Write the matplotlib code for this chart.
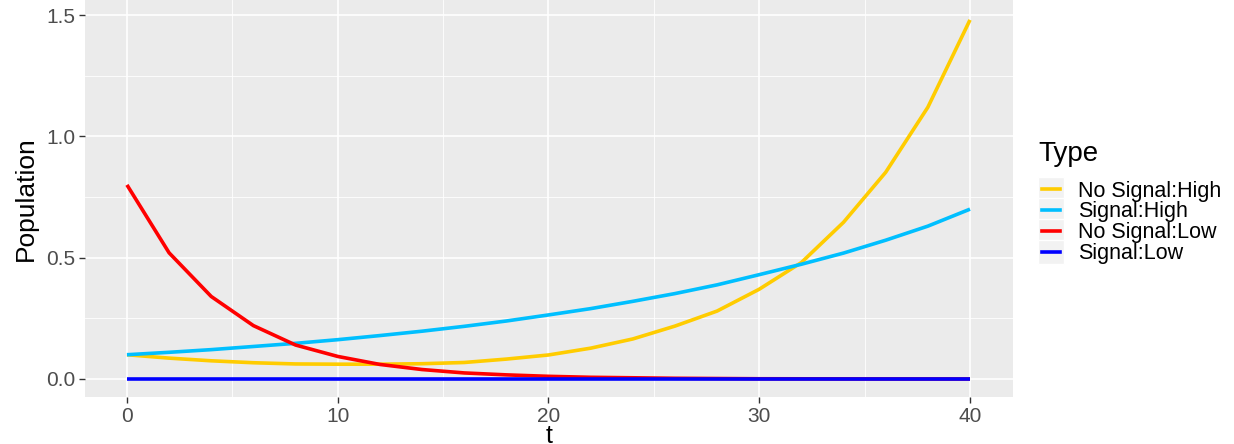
import matplotlib
matplotlib.use("Agg")
import matplotlib.pyplot as plt
from matplotlib.legend_handler import HandlerLine2D
from matplotlib.patches import Rectangle
from matplotlib.lines import Line2D

plt.rcParams['font.family'] = ['Liberation Sans', 'DejaVu Sans']

# data (t every 2 units)
t = [0, 2, 4, 6, 8, 10, 12, 14, 16, 18, 20, 22, 24, 26, 28, 30, 32, 34, 36, 38, 40]
no_signal_high = [0.100, 0.086, 0.075, 0.067, 0.062, 0.061, 0.061, 0.063, 0.068, 0.082, 0.099,
                  0.127, 0.165, 0.218, 0.280, 0.370, 0.480, 0.646, 0.852, 1.120, 1.480]
signal_high = [0.100, 0.110, 0.121, 0.134, 0.147, 0.162, 0.179, 0.197, 0.217, 0.239, 0.264,
               0.290, 0.320, 0.352, 0.388, 0.430, 0.473, 0.519, 0.572, 0.630, 0.700]
no_signal_low = [0.800, 0.520, 0.340, 0.220, 0.140, 0.093, 0.060, 0.039, 0.025, 0.017, 0.011,
                 0.007, 0.005, 0.003, 0.002, 0.001, 0.0008, 0.0005, 0.0003, 0.0002, 0.0001]
signal_low = [0.0] * len(t)

series = [
    ("No Signal:High", no_signal_high, "#FFCC00"),
    ("Signal:High", signal_high, "#00BFFF"),
    ("No Signal:Low", no_signal_low, "#FF0000"),
    ("Signal:Low", signal_low, "#0000FF"),
]


class KeyHandler(HandlerLine2D):
    """legend key with the grey ggplot box behind the line"""
    def create_artists(self, legend, orig_handle, xdescent, ydescent, width, height, fontsize, trans):
        bg = Rectangle((-xdescent, -ydescent - 2), width, height + 4,
                       facecolor="#F2F2F2", edgecolor="white", lw=1.0, transform=trans)
        y = height / 2 - ydescent
        ln = Line2D([-xdescent + 3, -xdescent + width - 3], [y, y],
                    color=orig_handle.get_color(), lw=orig_handle.get_linewidth(),
                    transform=trans)
        return [bg, ln]


fig = plt.figure(figsize=(12.34, 4.44), dpi=100)
ax = fig.add_axes([85 / 1234, 47 / 444, 928 / 1234, 397 / 444])
ax.set_facecolor("#EBEBEB")

lines = []
for name, vals, col in series:
    ln, = ax.plot(t, vals, color=col, lw=2.6, label=name, solid_capstyle="butt")
    lines.append(ln)

ax.set_xlim(-1.99, 42.04)
ax.set_ylim(-0.0742, 1.562)
ax.set_xticks([0, 10, 20, 30, 40])
ax.set_yticks([0.0, 0.5, 1.0, 1.5])
ax.set_yticklabels(["0.0", "0.5", "1.0", "1.5"])
ax.set_xticks([5, 15, 25, 35], minor=True)
ax.set_yticks([0.25, 0.75, 1.25], minor=True)
ax.grid(which="major", color="white", lw=1.2)
ax.grid(which="minor", color="white", lw=0.6)
ax.set_axisbelow(True)
for s in ax.spines.values():
    s.set_visible(False)
ax.tick_params(which="major", length=4, width=1, color="#333333",
               labelsize=15, labelcolor="#4D4D4D", pad=3)
ax.tick_params(which="minor", length=0)

ax.set_xlabel("t", fontsize=18, labelpad=-1.5)
ax.set_ylabel("Population", fontsize=19, labelpad=6)

leg = fig.legend(lines, [s[0] for s in series], title="Type",
                 handler_map={Line2D: KeyHandler()},
                 loc="upper left", bbox_to_anchor=(1038 / 1234, 1 - 141 / 444),
                 frameon=False, fontsize=15.5, title_fontsize=20,
                 handlelength=1.2, handleheight=1.0, handletextpad=0.68,
                 labelspacing=-0.05, borderaxespad=0, borderpad=0)
leg._legend_box.align = "left"
leg._legend_box.sep = 9

fig.savefig("out.png", dpi=100)
